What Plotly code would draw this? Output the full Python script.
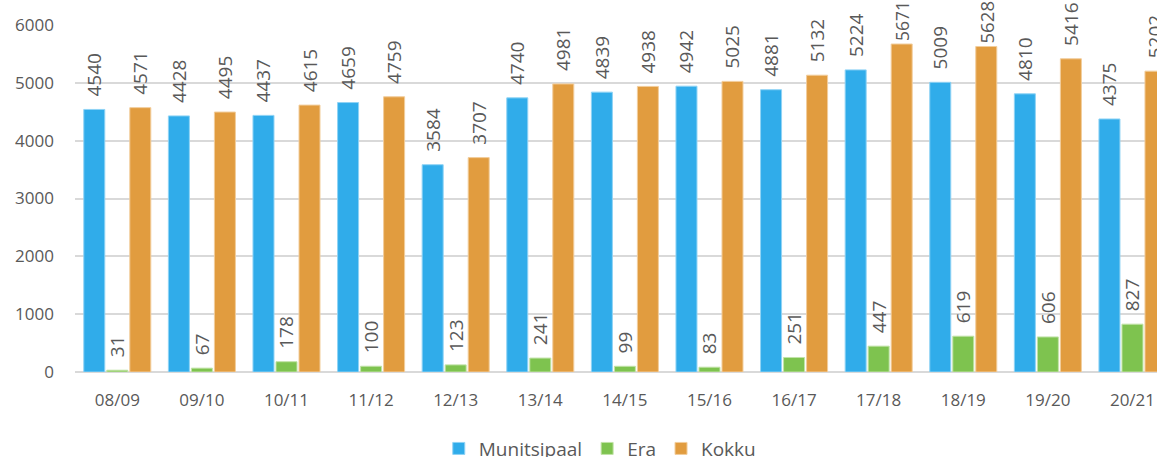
import plotly.graph_objects as go

categories = ["08/09", "09/10", "10/11", "11/12", "12/13", "13/14", "14/15",
              "15/16", "16/17", "17/18", "18/19", "19/20", "20/21"]
munitsipaal = [4540, 4428, 4437, 4659, 3584, 4740, 4839, 4942, 4881, 5224, 5009, 4810, 4375]
era = [31, 67, 178, 100, 123, 241, 99, 83, 251, 447, 619, 606, 827]
kokku = [4571, 4495, 4615, 4759, 3707, 4981, 4938, 5025, 5132, 5671, 5628, 5416, 5202]

series = [
    ("Munitsipaal", munitsipaal, "#30ACEA", "#8FD3F5"),
    ("Era", era, "#7EC34F", "#C2E3A8"),
    ("Kokku", kokku, "#E19C3F", "#F2CD9C"),
]

FONT = "Open Sans, Lato, sans-serif"
TXT = "#595959"
YMAX = 6000
W, H = 1157, 457
ML, MT, MB = 75, 25, 85
PLOT_H = H - MT - MB
BASE_SIZE = 19
DIGIT_EM = 0.572
NBSP_EM = 0.26


def label_for(v):
    """Return (text, size) so that the rotated outside label stays on the canvas."""
    s = str(v)
    avail = MT + (YMAX - v) * PLOT_H / YMAX - 3 - 1  # px above bar top
    need = len(s) * DIGIT_EM * BASE_SIZE
    for n in (2, 1, 0):
        if need + n * NBSP_EM * BASE_SIZE <= avail:
            return "\u00a0" * n + s, BASE_SIZE
    return s, round(avail / (len(s) * DIGIT_EM), 1)


fig = go.Figure()
for name, vals, col, edge in series:
    labs = [label_for(v) for v in vals]
    fig.add_trace(go.Bar(
        x=categories, y=vals, name=name,
        marker=dict(color=col, line=dict(color=edge, width=1)),
        text=[t for t, _ in labs], textposition="outside",
        textangle=-90,
        textfont=dict(size=[sz for _, sz in labs], color=TXT, family=FONT),
        cliponaxis=False, constraintext="none",
    ))

fig.update_layout(
    width=W, height=H,
    margin=dict(l=ML, r=0, t=MT, b=MB, autoexpand=False),
    barmode="group", bargap=0.184, bargroupgap=0.087,
    plot_bgcolor="white", paper_bgcolor="white",
    font=dict(family=FONT, color=TXT, size=16),
    legend=dict(orientation="h", x=0.485, xanchor="center",
                yref="container", y=0.06, yanchor="top",
                font=dict(size=19, color=TXT, family=FONT),
                traceorder="normal"),
    xaxis=dict(range=[-0.5, 12.29], showgrid=False, showline=False, ticks="",
               tickfont=dict(size=17, color=TXT), ticklabelstandoff=16),
    yaxis=dict(range=[0, YMAX], dtick=1000, showgrid=True, gridcolor="#D9D9D9",
               gridwidth=1.5, zeroline=True, zerolinecolor="#D9D9D9", zerolinewidth=1.5,
               tickfont=dict(size=17, color=TXT), ticklabelstandoff=20),
)
fig.write_html("out.html", config={"displayModeBar": False},
               post_script="document.body.style.margin='0';document.body.style.overflow='hidden';")
